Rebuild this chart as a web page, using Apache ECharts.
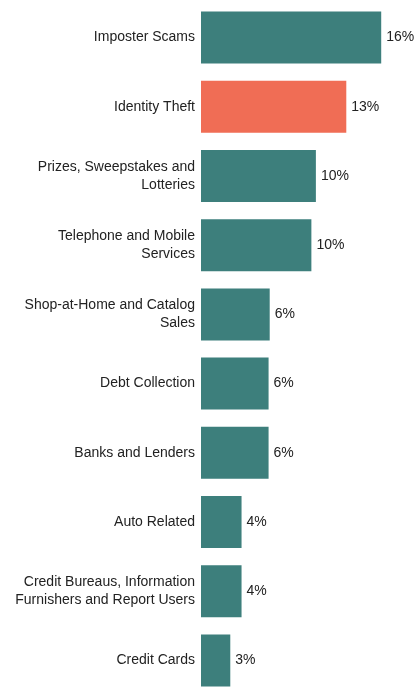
<!DOCTYPE html>
<html><head><meta charset="utf-8">
<script src="https://cdn.jsdelivr.net/npm/echarts@6/dist/echarts.min.js"></script>
<style>html,body{margin:0;padding:0;background:#fff}#c{width:418px;height:695px}</style>
</head><body><div id="c"></div>
<script>
const categories = ["Imposter Scams","Identity Theft","Prizes, Sweepstakes and\nLotteries","Telephone and Mobile\nServices","Shop-at-Home and Catalog\nSales","Debt Collection","Banks and Lenders","Auto Related","Credit Bureaus, Information\nFurnishers and Report Users","Credit Cards"];
const values = [16.0,12.9,10.2,9.8,6.1,6.0,6.0,3.6,3.6,2.6];
const highlight = [false,true,false,false,false,false,false,false,false,false];
const chart = echarts.init(document.getElementById('c'));
chart.setOption({
  animation:false,
  grid:{left:201,right:3,top:3,height:694,containLabel:false},
  xAxis:{type:'value',min:0,max:19,show:false},
  yAxis:{type:'category',inverse:true,data:categories,axisLine:{show:false},axisTick:{show:false},
    axisLabel:{color:'#222',fontSize:14,fontFamily:'Liberation Sans',lineHeight:18,margin:6,align:'right'}},
  series:[{type:'bar',barWidth:52,
    data:values.map((v,i)=>({value:v,itemStyle:{color:highlight[i]?'#f06d55':'#3d7f7c'}})),
    label:{show:true,position:'right',color:'#222',fontSize:14,fontFamily:'Liberation Sans',distance:5,
      formatter:p=>Math.round(p.value)+'%'}}]
});
</script></body></html>
